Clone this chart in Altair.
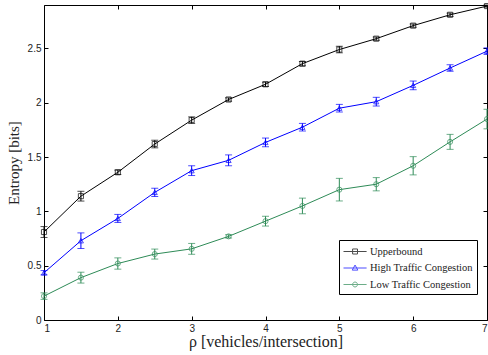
import altair as alt
import pandas as pd

rho = [1, 1.5, 2, 2.5, 3, 3.5, 4, 4.5, 5, 5.5, 6, 6.5, 7]
upper = [0.81, 1.14, 1.36, 1.62, 1.84, 2.03, 2.17, 2.36, 2.49, 2.59, 2.71, 2.81, 2.89]
upper_err = [0.05, 0.045, 0.02, 0.035, 0.03, 0.015, 0.02, 0.02, 0.03, 0.015, 0.015, 0.015, 0.01]
high = [0.435, 0.73, 0.935, 1.175, 1.375, 1.47, 1.635, 1.775, 1.95, 2.01, 2.16, 2.32, 2.475]
high_err = [0.02, 0.072, 0.037, 0.038, 0.045, 0.05, 0.04, 0.035, 0.035, 0.04, 0.04, 0.03, 0.03]
low = [0.22, 0.39, 0.52, 0.607, 0.655, 0.77, 0.91, 1.05, 1.2, 1.25, 1.42, 1.64, 1.85]
low_err = [0.03, 0.05, 0.052, 0.046, 0.05, 0.015, 0.045, 0.072, 0.104, 0.061, 0.084, 0.069, 0.09]

series = ["Upperbound", "High Traffic Congestion", "Low Traffic Congestion"]
colors = ["#000000", "#0000FF", "#2E8B57"]
shapes = ["square", "triangle-up", "circle"]
# legend glyphs: a short line with the series marker in its middle
legend_paths = [
    "M-1,0H2.3M0.3,-0.36H1V0.36H0.3Z",
    "M-1,0H2.3M0.65,-0.42L1.05,0.3H0.25Z",
    "M-1,0H2.3M0.3,0A0.35,0.35 0 1,0 1,0A0.35,0.35 0 1,0 0.3,0Z",
]
x_ticks = [1, 2, 3, 4, 5, 6, 7]
y_ticks = [0, 0.5, 1, 1.5, 2, 2.5]

rows = []
for name, vals, errs in zip(series, [upper, high, low], [upper_err, high_err, low_err]):
    for x, v, e in zip(rho, vals, errs):
        rows.append(dict(rho=x, series=name, value=v, lo=v - e, hi=v + e))
df = pd.DataFrame(rows)

SERIF = "Liberation Serif"
SANS = "Liberation Sans"

xs = alt.Scale(domain=[1, 7], nice=False)
ys = alt.Scale(domain=[0, 2.9], nice=False)
col_scale = alt.Scale(domain=series, range=colors)


def ax(orient, values, title=None, labels=True, title_size=15):
    kw = dict(orient=orient, values=values, tickSize=4, offset=-4, domain=False,
              grid=False, labels=labels, tickColor="black", tickWidth=1,
              labelFont=SANS, labelFontSize=10, labelColor="#222", format="~g")
    if title is not None:
        kw.update(title=title, titleFont=SERIF, titleFontSize=title_size,
                  titleFontWeight="normal", titleColor="#222")
    else:
        kw.update(title=None)
    if orient == "bottom":
        kw.update(labelPadding=3, titlePadding=0)
    if orient == "left":
        kw.update(labelPadding=3, titlePadding=6)
    return alt.Axis(**kw)


base = alt.Chart(df)

lines = base.mark_line(strokeWidth=1).encode(
    x=alt.X("rho:Q", scale=xs, axis=ax("bottom", x_ticks, "ρ [vehicles/intersection]", title_size=16)),
    y=alt.Y("value:Q", scale=ys, axis=ax("left", y_ticks, "Entropy [bits]")),
    color=alt.Color("series:N", scale=col_scale, legend=None),
    detail="series:N",
)

rules = base.mark_rule(strokeWidth=1).encode(
    x=alt.X("rho:Q", scale=xs, axis=ax("top", x_ticks, labels=False)),
    y=alt.Y("lo:Q", scale=ys, axis=ax("right", y_ticks, labels=False)),
    y2="hi:Q",
    color=alt.Color("series:N", scale=col_scale, legend=None),
)

cap_lo = base.mark_tick(orient="horizontal", thickness=1, size=7).encode(
    x=alt.X("rho:Q", scale=xs, axis=None),
    y=alt.Y("lo:Q", scale=ys, axis=None),
    color=alt.Color("series:N", scale=col_scale, legend=None),
)
cap_hi = base.mark_tick(orient="horizontal", thickness=1, size=7).encode(
    x=alt.X("rho:Q", scale=xs, axis=None),
    y=alt.Y("hi:Q", scale=ys, axis=None),
    color=alt.Color("series:N", scale=col_scale, legend=None),
)

points = base.mark_point(filled=False, strokeWidth=1, size=26).encode(
    x=alt.X("rho:Q", scale=xs, axis=None),
    y=alt.Y("value:Q", scale=ys, axis=None),
    color=alt.Color("series:N", scale=col_scale, legend=None),
    shape=alt.Shape("series:N", scale=alt.Scale(domain=series, range=shapes), legend=None),
)

leg = alt.Legend(
    title=None, orient="none", legendX=295, legendY=235,
    strokeColor="black", fillColor="white", padding=4, cornerRadius=0,
    labelFont=SERIF, labelFontSize=10.5, labelColor="#222", labelOffset=12,
    symbolSize=196, symbolStrokeWidth=1, rowPadding=3.5,
    symbolFillColor="transparent",
)

legend_layer = base.transform_filter("datum.rho < 0").mark_point(filled=False, strokeWidth=1).encode(
    x=alt.X("rho:Q", scale=xs, axis=None),
    y=alt.Y("value:Q", scale=ys, axis=None),
    color=alt.Color("series:N", scale=col_scale, legend=leg),
    shape=alt.Shape("series:N", scale=alt.Scale(domain=series, range=legend_paths), legend=leg),
)

chart = (
    alt.layer(lines, rules, cap_lo, cap_hi, points, legend_layer)
    .resolve_scale(shape="independent", color="independent")
    .resolve_axis(x="independent", y="independent")
    .properties(
        width=443, height=315,
        autosize=alt.AutoSizeParams(type="none"),
        padding={"left": 44, "top": 5, "right": 1, "bottom": 35},
        background="white",
    )
    .configure_axis(titleFont=SERIF, titleFontWeight="normal")
    .configure_view(stroke="black", strokeWidth=1)
)

chart.save("out.html", embed_options={"renderer": "svg", "actions": False})
